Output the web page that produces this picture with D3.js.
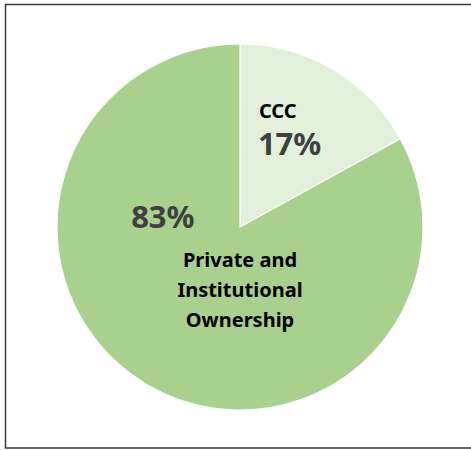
<!DOCTYPE html>
<html>
<head>
<meta charset="utf-8">
<script src="https://cdn.jsdelivr.net/npm/d3@7"></script>
<style>
  body { margin: 0; background: #fff; }
  text { font-family: "Noto Sans", "Open Sans", sans-serif; font-weight: 700; }
</style>
</head>
<body>
<div class="chart"></div>
<script>

// Datos
const categories = ["CCC", "Private and Institutional Ownership"];
const shares = [17, 83];
const pctLabels = ["17%", "83%"];
const nameLines = [["CCC"], ["Private and", "Institutional", "Ownership"]];
const colors = ["#e2efda", "#a9d18e"];

const width = 471;
const height = 450;

const svg = d3.select(".chart")
    .append("svg")
    .attr("width", width)
    .attr("height", height);

// Marco
svg.append("rect")
    .attr("x", 5.5)
    .attr("y", 4.5)
    .attr("width", width)
    .attr("height", 443.5)
    .attr("fill", "white")
    .attr("stroke", "#3a3a3a")
    .attr("stroke-width", 1.5);

const cx = 240;
const cy = 227;
const radius = 183;

const data = categories.map((c, i) => ({
    name: c,
    value: shares[i],
    pct: pctLabels[i],
    lines: nameLines[i],
    color: colors[i]
}));

const pie = d3.pie()
    .sort(null)
    .value(d => d.value);

const arc = d3.arc()
    .innerRadius(0)
    .outerRadius(radius);

const g = svg.append("g")
    .attr("transform", `translate(${cx},${cy})`);

const arcs = pie(data);

g.selectAll("path")
    .data(arcs)
    .enter()
    .append("path")
    .attr("d", arc)
    .attr("fill", d => d.data.color)
    .attr("stroke", "white")
    .attr("stroke-width", 1.2);

// Texto - CCC (slice pequeño)
const small = arcs[0];
const smallPos = d3.arc().innerRadius(radius * 0.6).outerRadius(radius * 0.6).centroid(small);

g.append("text")
    .attr("x", smallPos[0] - 37)
    .attr("y", smallPos[1] - 14.5)
    .attr("fill", "#000")
    .style("font-size", "20px")
    .text(small.data.lines[0]);

g.append("text")
    .attr("x", smallPos[0] - 38)
    .attr("y", smallPos[1] + 22.5)
    .attr("fill", "#404040")
    .style("font-size", "31px")
    .text(small.data.pct);

// Texto - slice grande
const big = arcs[1];

g.append("text")
    .attr("x", -radius * 0.595)
    .attr("y", 1)
    .attr("fill", "#404040")
    .style("font-size", "31px")
    .text(big.data.pct);

g.selectAll(".big-name")
    .data(big.data.lines)
    .enter()
    .append("text")
    .attr("class", "big-name")
    .attr("x", 0)
    .attr("y", (d, i) => 40 + i * 30)
    .attr("text-anchor", "middle")
    .attr("fill", "#000")
    .style("font-size", "20px")
    .text(d => d);

</script>
</body>
</html>
